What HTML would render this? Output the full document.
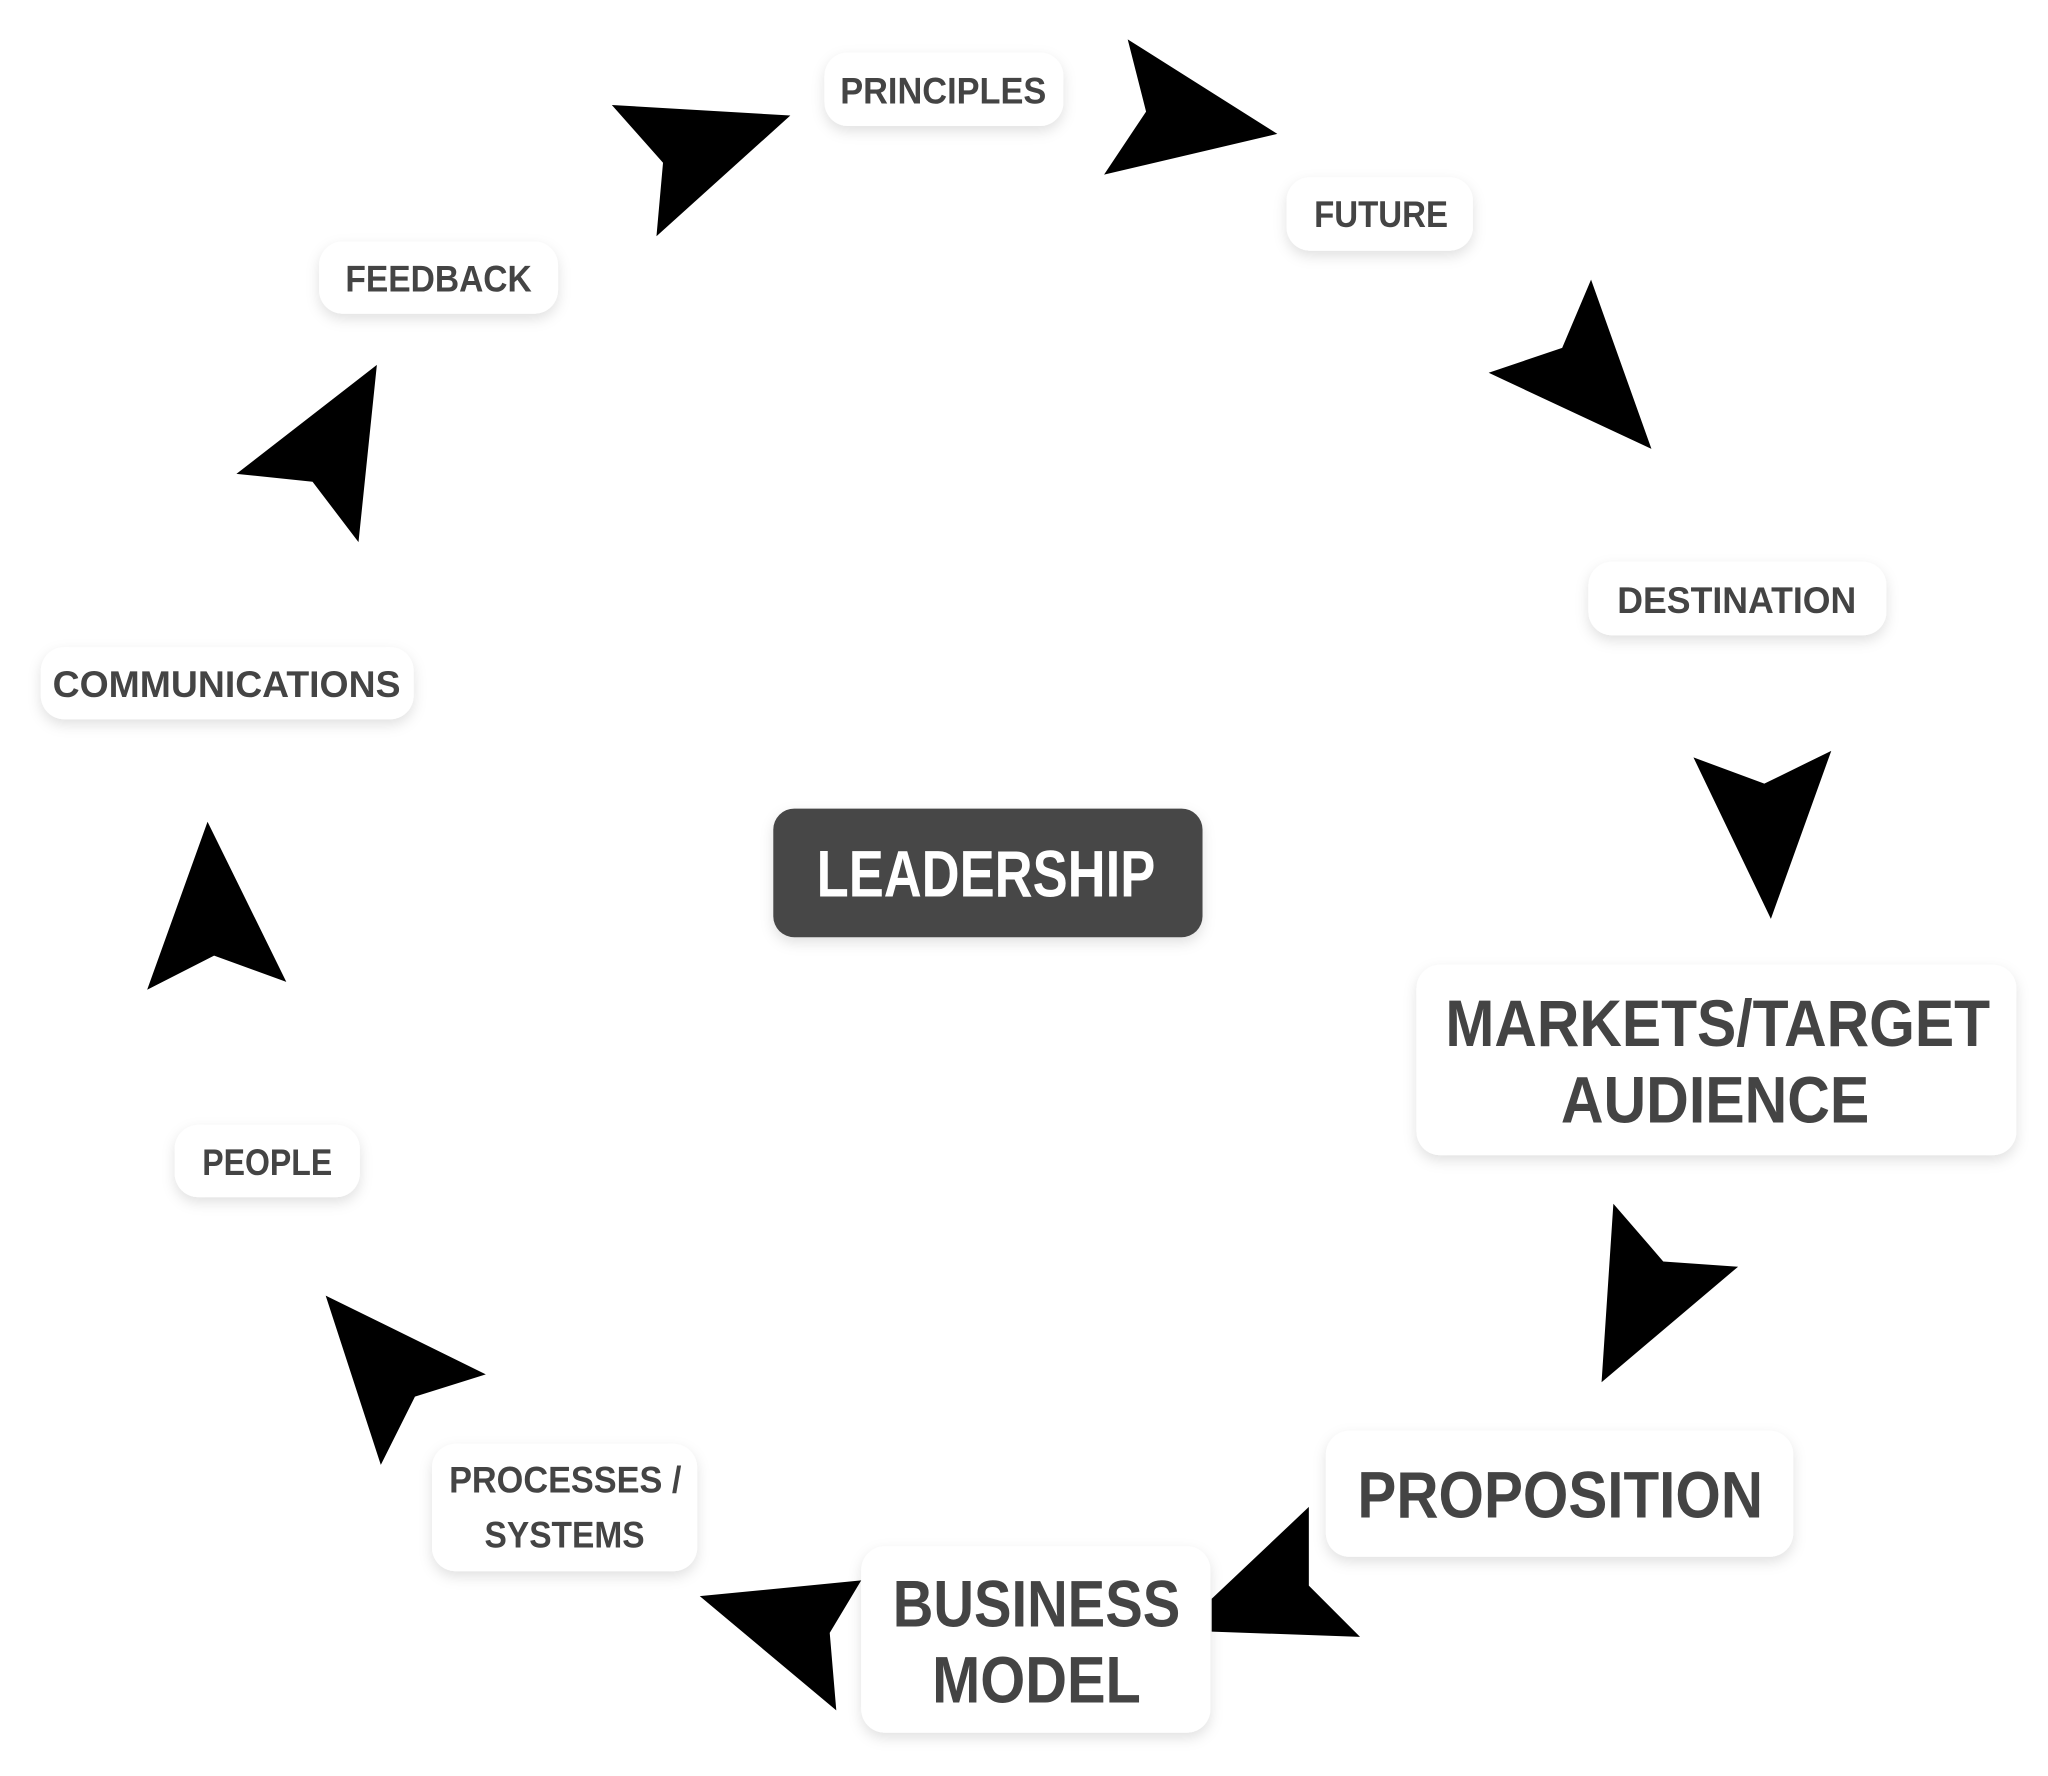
<!DOCTYPE html>
<html><head><meta charset="utf-8"><style>
html,body{margin:0;padding:0;background:#fff;width:2048px;height:1776px;overflow:hidden}
svg{display:block}
text{font-family:"Liberation Sans",sans-serif;font-weight:bold;fill:#444}
</style></head><body>
<svg width="2048" height="1776" viewBox="0 0 1560 1353" xmlns="http://www.w3.org/2000/svg">
<defs>
<filter id="sh" x="-20%" y="-30%" width="140%" height="170%">
<feDropShadow dx="0" dy="4" stdDeviation="5" flood-color="#000" flood-opacity="0.12"/>
</filter>
</defs>
<g filter="url(#sh)" fill="#fff">
<rect x="628" y="40" width="182" height="56" rx="18"/>
<rect x="980" y="135" width="142" height="56" rx="18"/>
<rect x="1210" y="428" width="227" height="56" rx="18"/>
<rect x="1079" y="735" width="457" height="145" rx="18"/>
<rect x="1010" y="1090" width="356" height="96" rx="18"/>
<rect x="656" y="1178" width="266" height="142" rx="18"/>
<rect x="329" y="1100" width="202" height="97" rx="18"/>
<rect x="133" y="857" width="141" height="55" rx="18"/>
<rect x="31" y="493" width="284" height="55" rx="18"/>
<rect x="243" y="184" width="182" height="55" rx="18"/>
<rect x="589" y="616" width="327" height="98" rx="16" fill="#474747"/>
</g>
<g fill="#000">
<polygon points="466,80 602,88 500,180 505,124"/>
<polygon points="859,30 973,102 841,133 873,85"/>
<polygon points="1212,213 1258,342 1134,284 1190,265"/>
<polygon points="1290,577 1344,597 1395,572 1349,700"/>
<polygon points="1229,917 1267,961 1324,965 1220,1053"/>
<polygon points="997,1148 997,1208 1036,1247 923,1243 923,1218"/>
<polygon points="533,1216 656,1204 632,1244 637,1303"/>
<polygon points="248,987 370,1047 316,1064 290,1116"/>
<polygon points="158,626 218,748 163,728 112,754"/>
<polygon points="287,278 273,413 238,367 180,361"/>
</g>
<g font-size="28" lengthAdjust="spacingAndGlyphs">
<text x="640" y="79" textLength="157" lengthAdjust="spacingAndGlyphs">PRINCIPLES</text>
<text x="1001" y="173" textLength="102" lengthAdjust="spacingAndGlyphs">FUTURE</text>
<text x="1232" y="467" textLength="182" lengthAdjust="spacingAndGlyphs">DESTINATION</text>
<text x="263" y="222" textLength="142" lengthAdjust="spacingAndGlyphs">FEEDBACK</text>
<text x="40" y="531" textLength="265" lengthAdjust="spacingAndGlyphs">COMMUNICATIONS</text>
<text x="154" y="895" textLength="99" lengthAdjust="spacingAndGlyphs">PEOPLE</text>
<text x="342" y="1137" textLength="177" lengthAdjust="spacingAndGlyphs">PROCESSES /</text>
<text x="369" y="1179" textLength="122" lengthAdjust="spacingAndGlyphs">SYSTEMS</text>
</g>
<g font-size="50">
<text x="1101" y="797" textLength="415" lengthAdjust="spacingAndGlyphs">MARKETS/TARGET</text>
<text x="1189" y="855" textLength="235" lengthAdjust="spacingAndGlyphs">AUDIENCE</text>
<text x="1034" y="1156" textLength="309" lengthAdjust="spacingAndGlyphs">PROPOSITION</text>
<text x="680" y="1239" textLength="219" lengthAdjust="spacingAndGlyphs">BUSINESS</text>
<text x="710" y="1297" textLength="159" lengthAdjust="spacingAndGlyphs">MODEL</text>
<text x="622" y="683" textLength="258" lengthAdjust="spacingAndGlyphs" style="fill:#fff">LEADERSHIP</text>
</g>
</svg>
</body></html>
